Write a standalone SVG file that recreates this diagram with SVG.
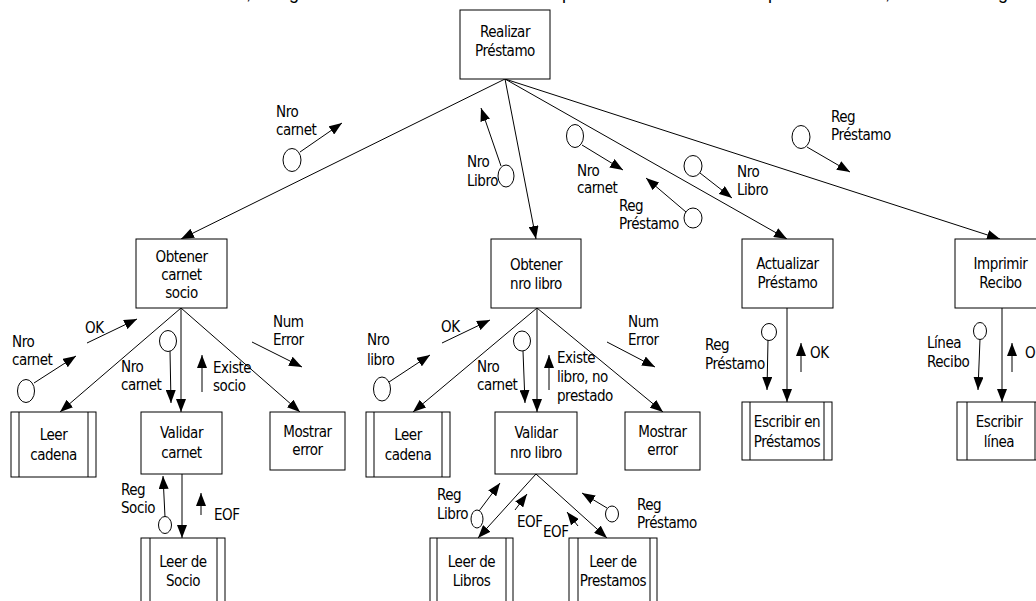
<svg xmlns="http://www.w3.org/2000/svg" width="1036" height="601" viewBox="0 0 1036 601">
  <style>
    text { font-family: "DejaVu Sans Condensed", "DejaVu Sans", sans-serif; font-stretch: condensed; font-size: 15px; letter-spacing: -0.45px; fill: #000; }
    .c { text-anchor: middle; }
    .box { fill: #fff; stroke: #000; stroke-width: 1; }
    .bar { stroke: #000; stroke-width: 1; }
    .edge { fill: none; stroke: #000; stroke-width: 1; marker-end: url(#ah); }
    .flow { fill: none; stroke: #000; stroke-width: 1; marker-end: url(#ah); }
    .cpl { fill: #fff; stroke: #000; stroke-width: 1; }
    .top { font-family: "Liberation Sans", Arial, sans-serif; font-stretch: normal; font-size: 18px; letter-spacing: 0; }
  </style>
  <defs>
    <marker id="ah" markerWidth="13" markerHeight="10" refX="13" refY="5" orient="auto" markerUnits="userSpaceOnUse">
      <path d="M0,0 L13,5 L0,10 z" fill="#000"/>
    </marker>
  </defs>
  <rect width="1036" height="601" fill="#fff"/>

  <!-- descenders of the line of text above the chart -->
  <g id="cut-line">
    <text class="top" x="246" y="-1">,</text>
    <text class="top" x="289" y="-1">g</text>
    <text class="top" x="562" y="-1">p</text>
    <text class="top" x="768" y="-1">p</text>
    <text class="top" x="885" y="-1">,</text>
    <text class="top" x="998" y="-1">g</text>
  </g>

  <!-- structure chart connectors -->
  <g id="connectors">
    <line class="edge" x1="505" y1="79" x2="181" y2="239"/>
    <line class="edge" x1="505" y1="79" x2="536" y2="239"/>
    <line class="edge" x1="505" y1="79" x2="787" y2="239"/>
    <line class="edge" x1="505" y1="79" x2="1000" y2="239"/>
    <line class="edge" x1="181" y1="308" x2="60" y2="412"/>
    <line class="edge" x1="181" y1="308" x2="181" y2="412"/>
    <line class="edge" x1="181" y1="308" x2="300" y2="412"/>
    <line class="edge" x1="537" y1="308" x2="413" y2="412"/>
    <line class="edge" x1="537" y1="308" x2="537" y2="412"/>
    <line class="edge" x1="537" y1="308" x2="663" y2="412"/>
    <line class="edge" x1="787" y1="308" x2="787" y2="402"/>
    <line class="edge" x1="1002" y1="308" x2="1002" y2="402"/>
    <line class="edge" x1="182" y1="474" x2="182" y2="538"/>
    <line class="edge" x1="536" y1="474" x2="478" y2="538"/>
    <line class="edge" x1="536" y1="474" x2="607" y2="538"/>
  </g>

  <!-- modules -->
  <g id="realizar-prestamo">
    <rect class="box" x="460" y="10" width="90" height="69"/>
    <text class="c" x="505" y="37">Realizar</text>
    <text class="c" x="505" y="56">Préstamo</text>
  </g>
  <g id="obtener-carnet-socio">
    <rect class="box" x="136" y="239" width="91" height="69"/>
    <text class="c" x="181.5" y="262">Obtener</text>
    <text class="c" x="181.5" y="280">carnet</text>
    <text class="c" x="181.5" y="298">socio</text>
  </g>
  <g id="obtener-nro-libro">
    <rect class="box" x="491" y="239" width="90" height="69"/>
    <text class="c" x="536" y="270">Obtener</text>
    <text class="c" x="536" y="289">nro libro</text>
  </g>
  <g id="actualizar-prestamo">
    <rect class="box" x="742" y="239" width="91" height="69"/>
    <text class="c" x="787.5" y="269">Actualizar</text>
    <text class="c" x="787.5" y="288">Préstamo</text>
  </g>
  <g id="imprimir-recibo">
    <rect class="box" x="955" y="239" width="91" height="69"/>
    <text class="c" x="1000.5" y="269">Imprimir</text>
    <text class="c" x="1000.5" y="288">Recibo</text>
  </g>
  <g id="leer-cadena-1">
    <rect class="box" x="11" y="412" width="85" height="65"/>
    <line class="bar" x1="19" y1="412" x2="19" y2="477"/>
    <line class="bar" x1="88" y1="412" x2="88" y2="477"/>
    <text class="c" x="53.5" y="440">Leer</text>
    <text class="c" x="53.5" y="460">cadena</text>
  </g>
  <g id="validar-carnet">
    <rect class="box" x="141" y="412" width="81" height="62"/>
    <text class="c" x="181.5" y="438">Validar</text>
    <text class="c" x="181.5" y="458">carnet</text>
  </g>
  <g id="mostrar-error-1">
    <rect class="box" x="270" y="412" width="75" height="58"/>
    <text class="c" x="307.5" y="437">Mostrar</text>
    <text class="c" x="307.5" y="455">error</text>
  </g>
  <g id="leer-cadena-2">
    <rect class="box" x="366" y="412" width="84" height="65"/>
    <line class="bar" x1="374" y1="412" x2="374" y2="477"/>
    <line class="bar" x1="442" y1="412" x2="442" y2="477"/>
    <text class="c" x="408" y="440">Leer</text>
    <text class="c" x="408" y="460">cadena</text>
  </g>
  <g id="validar-nro-libro">
    <rect class="box" x="495" y="412" width="82" height="62"/>
    <text class="c" x="536" y="438">Validar</text>
    <text class="c" x="536" y="458">nro libro</text>
  </g>
  <g id="mostrar-error-2">
    <rect class="box" x="625" y="412" width="75" height="58"/>
    <text class="c" x="662.5" y="437">Mostrar</text>
    <text class="c" x="662.5" y="455">error</text>
  </g>
  <g id="escribir-en-prestamos">
    <rect class="box" x="742" y="402" width="90" height="58"/>
    <line class="bar" x1="750" y1="402" x2="750" y2="460"/>
    <line class="bar" x1="824" y1="402" x2="824" y2="460"/>
    <text class="c" x="787" y="427">Escribir en</text>
    <text class="c" x="787" y="447">Préstamos</text>
  </g>
  <g id="escribir-linea">
    <rect class="box" x="957" y="402" width="88" height="58"/>
    <line class="bar" x1="967" y1="402" x2="967" y2="460"/>
    <line class="bar" x1="1035" y1="402" x2="1035" y2="460"/>
    <text class="c" x="999" y="427">Escribir</text>
    <text class="c" x="999" y="447">línea</text>
  </g>
  <g id="leer-de-socio">
    <rect class="box" x="141" y="538" width="84" height="70"/>
    <line class="bar" x1="150" y1="538" x2="150" y2="608"/>
    <line class="bar" x1="217" y1="538" x2="217" y2="608"/>
    <text class="c" x="183" y="567">Leer de</text>
    <text class="c" x="183" y="586">Socio</text>
  </g>
  <g id="leer-de-libros">
    <rect class="box" x="430" y="538" width="83" height="70"/>
    <line class="bar" x1="437" y1="538" x2="437" y2="608"/>
    <line class="bar" x1="506" y1="538" x2="506" y2="608"/>
    <text class="c" x="471.5" y="567">Leer de</text>
    <text class="c" x="471.5" y="586">Libros</text>
  </g>
  <g id="leer-de-prestamos">
    <rect class="box" x="569" y="538" width="88" height="70"/>
    <line class="bar" x1="578" y1="538" x2="578" y2="608"/>
    <line class="bar" x1="650" y1="538" x2="650" y2="608"/>
    <text class="c" x="613" y="567">Leer de</text>
    <text class="c" x="613" y="586">Prestamos</text>
  </g>

  <!-- couples (data and control flags) -->
  <g id="couples">
    <!-- under Realizar Préstamo -->
    <line class="flow" x1="300" y1="152" x2="342" y2="123"/>
    <ellipse class="cpl" cx="292" cy="160" rx="9" ry="11.5"/>
    <text x="276" y="117">Nro</text><text x="276" y="135">carnet</text>

    <line class="flow" x1="501" y1="166" x2="481" y2="108"/>
    <ellipse class="cpl" cx="506" cy="176" rx="8" ry="11"/>
    <text x="467" y="167">Nro</text><text x="467" y="186">Libro</text>

    <line class="flow" x1="582" y1="145" x2="623" y2="170"/>
    <ellipse class="cpl" cx="575" cy="136" rx="8.5" ry="11.5"/>
    <text x="577" y="176">Nro</text><text x="577" y="193">carnet</text>

    <line class="flow" x1="686" y1="212" x2="646" y2="178"/>
    <ellipse class="cpl" cx="693" cy="218" rx="9" ry="10"/>
    <text x="619" y="211">Reg</text><text x="619" y="229">Préstamo</text>

    <line class="flow" x1="700" y1="173" x2="732" y2="198"/>
    <ellipse class="cpl" cx="693" cy="166" rx="9" ry="10.5"/>
    <text x="737" y="177">Nro</text><text x="737" y="195">Libro</text>

    <line class="flow" x1="807" y1="147" x2="850" y2="172"/>
    <ellipse class="cpl" cx="801" cy="137" rx="9" ry="11.5"/>
    <text x="831" y="122">Reg</text><text x="831" y="140">Préstamo</text>

    <!-- under Obtener carnet socio -->
    <line class="flow" x1="87" y1="343" x2="137" y2="319"/>
    <text x="85" y="333">OK</text>

    <line class="flow" x1="34" y1="383" x2="76" y2="356"/>
    <ellipse class="cpl" cx="26" cy="391" rx="8.5" ry="11.5"/>
    <text x="12" y="347">Nro</text><text x="12" y="365">carnet</text>

    <line class="flow" x1="170" y1="351" x2="171" y2="403"/>
    <ellipse class="cpl" cx="168" cy="341" rx="8.5" ry="10.5"/>
    <text x="121" y="372">Nro</text><text x="121" y="390">carnet</text>

    <line class="flow" x1="202" y1="392" x2="202" y2="355"/>
    <text x="213" y="373">Existe</text><text x="213" y="391">socio</text>

    <line class="flow" x1="252" y1="342" x2="302" y2="367"/>
    <text x="273" y="327">Num</text><text x="273" y="345">Error</text>

    <line class="flow" x1="165" y1="517" x2="163" y2="476"/>
    <ellipse class="cpl" cx="165" cy="525" rx="6.5" ry="8.5"/>
    <text x="121" y="495">Reg</text><text x="121" y="513">Socio</text>

    <line class="flow" x1="201" y1="515" x2="201" y2="493"/>
    <text x="214" y="520">EOF</text>

    <!-- under Obtener nro libro -->
    <line class="flow" x1="442" y1="343" x2="490" y2="320"/>
    <text x="441" y="332">OK</text>

    <line class="flow" x1="389" y1="382" x2="430" y2="355"/>
    <ellipse class="cpl" cx="382" cy="389" rx="8.5" ry="12"/>
    <text x="367" y="345">Nro</text><text x="367" y="365">libro</text>

    <line class="flow" x1="523" y1="351" x2="525" y2="403"/>
    <ellipse class="cpl" cx="522" cy="341" rx="8.5" ry="10"/>
    <text x="477" y="372">Nro</text><text x="477" y="390">carnet</text>

    <line class="flow" x1="549" y1="390" x2="549" y2="355"/>
    <text x="557" y="363">Existe</text><text x="557" y="382">libro, no</text><text x="557" y="401">prestado</text>

    <line class="flow" x1="607" y1="342" x2="655" y2="367"/>
    <text x="628" y="327">Num</text><text x="628" y="345">Error</text>

    <line class="flow" x1="479" y1="511" x2="500" y2="483"/>
    <ellipse class="cpl" cx="477" cy="519" rx="6" ry="9"/>
    <text x="437" y="500">Reg</text><text x="437" y="519">Libro</text>

    <line class="flow" x1="515" y1="510" x2="527" y2="494"/>
    <text x="517" y="527">EOF</text>

    <line class="flow" x1="578" y1="526" x2="567" y2="512"/>
    <text x="543" y="537">EOF</text>

    <line class="flow" x1="607" y1="508" x2="582" y2="493"/>
    <ellipse class="cpl" cx="612" cy="514" rx="6.5" ry="8"/>
    <text x="637" y="510">Reg</text><text x="637" y="528">Préstamo</text>

    <!-- under Actualizar Préstamo -->
    <line class="flow" x1="768" y1="340" x2="767" y2="390"/>
    <ellipse class="cpl" cx="769" cy="332" rx="7.5" ry="8.5"/>
    <text x="705" y="350">Reg</text><text x="705" y="369">Préstamo</text>

    <line class="flow" x1="801" y1="372" x2="801" y2="343"/>
    <text x="810" y="358">OK</text>

    <!-- under Imprimir Recibo -->
    <line class="flow" x1="980" y1="339" x2="978" y2="390"/>
    <ellipse class="cpl" cx="980" cy="331" rx="6.5" ry="8.5"/>
    <text x="927" y="348">Línea</text><text x="927" y="367">Recibo</text>

    <line class="flow" x1="1012" y1="372" x2="1012" y2="343"/>
    <text x="1025" y="358">OK</text>
  </g>
</svg>
